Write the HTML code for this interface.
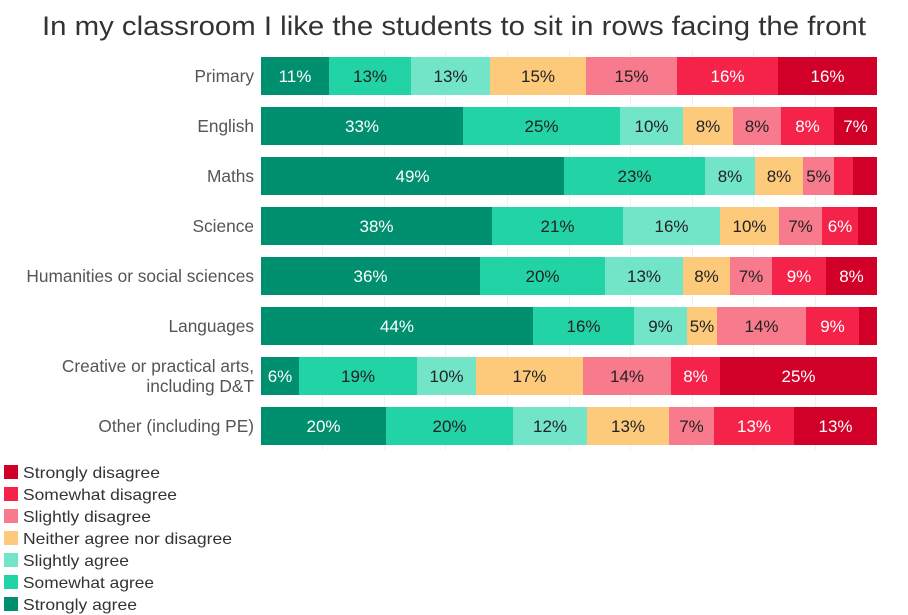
<!DOCTYPE html>
<html><head><meta charset="utf-8"><style>
html,body{margin:0;padding:0;background:#fff;}
svg{display:block;font-family:"Liberation Sans",sans-serif;}
</style></head><body>
<svg width="908" height="615" viewBox="0 0 908 615" xmlns="http://www.w3.org/2000/svg">
<text x="454" y="35" text-anchor="middle" font-size="27" fill="#333" textLength="824" lengthAdjust="spacingAndGlyphs">In my classroom I like the students to sit in rows facing the front</text>
<g stroke="#f0f0f0" stroke-width="1">
<line x1="322.5" y1="50" x2="322.5" y2="450"/><line x1="384.5" y1="50" x2="384.5" y2="450"/><line x1="445.5" y1="50" x2="445.5" y2="450"/><line x1="507.5" y1="50" x2="507.5" y2="450"/><line x1="569.5" y1="50" x2="569.5" y2="450"/><line x1="630.5" y1="50" x2="630.5" y2="450"/><line x1="692.5" y1="50" x2="692.5" y2="450"/><line x1="753.5" y1="50" x2="753.5" y2="450"/><line x1="815.5" y1="50" x2="815.5" y2="450"/>
</g>
<g id="bars"></g>
<g font-size="17.3" fill="#555" text-anchor="end">
<text x="254" y="82">Primary</text>
<text x="254" y="132">English</text>
<text x="254" y="182">Maths</text>
<text x="254" y="232">Science</text>
<text x="254" y="282">Humanities or social sciences</text>
<text x="254" y="332">Languages</text>
<text x="254" y="372">Creative or practical arts,</text>
<text x="254" y="392">including D&amp;T</text>
<text x="254" y="432">Other (including PE)</text>
</g>
<g font-size="16" fill="#333">
<rect x="4" y="465" width="14" height="14" fill="#d10028"/><text x="23" y="478" textLength="137" lengthAdjust="spacingAndGlyphs">Strongly disagree</text>
<rect x="4" y="487" width="14" height="14" fill="#f5234a"/><text x="23" y="500" textLength="154" lengthAdjust="spacingAndGlyphs">Somewhat disagree</text>
<rect x="4" y="509" width="14" height="14" fill="#f77b8c"/><text x="23" y="522" textLength="128" lengthAdjust="spacingAndGlyphs">Slightly disagree</text>
<rect x="4" y="531" width="14" height="14" fill="#fdc97b"/><text x="23" y="544" textLength="209" lengthAdjust="spacingAndGlyphs">Neither agree nor disagree</text>
<rect x="4" y="553" width="14" height="14" fill="#72e5c8"/><text x="23" y="566" textLength="106" lengthAdjust="spacingAndGlyphs">Slightly agree</text>
<rect x="4" y="575" width="14" height="14" fill="#22d3a6"/><text x="23" y="588" textLength="131" lengthAdjust="spacingAndGlyphs">Somewhat agree</text>
<rect x="4" y="597" width="14" height="14" fill="#009070"/><text x="23" y="610" textLength="114" lengthAdjust="spacingAndGlyphs">Strongly agree</text>
</g>
</svg>
<script>
var cols=["#009070","#22d3a6","#72e5c8","#fdc97b","#f77b8c","#f5234a","#d10028"];
var tc=["#fff","#222","#222","#222","#222","#fff","#fff"];
var rows=[
[[261,329,411,490,586,677,778,877],["11%","13%","13%","15%","15%","16%","16%"]],
[[261,463,620,683,733,781,834,877],["33%","25%","10%","8%","8%","8%","7%"]],
[[261,564,705,755,803,834,853,877],["49%","23%","8%","8%","5%","",""]],
[[261,492,623,720,779,822,858,877],["38%","21%","16%","10%","7%","6%",""]],
[[261,480,605,683,730,772,826,877],["36%","20%","13%","8%","7%","9%","8%"]],
[[261,533,634,687,717,806,859,877],["44%","16%","9%","5%","14%","9%",""]],
[[261,299,417,476,583,671,720,877],["6%","19%","10%","17%","14%","8%","25%"]],
[[261,386,513,587,669,714,794,877],["20%","20%","12%","13%","7%","13%","13%"]]];
var g=document.getElementById("bars"),s="";
rows.forEach(function(r,i){var y=57+i*50;var b=r[0];
for(var j=0;j<7;j++){s+='<rect x="'+b[j]+'" y="'+y+'" width="'+(b[j+1]-b[j])+'" height="38" fill="'+cols[j]+'"/>';
if(r[1][j])s+='<text x="'+((b[j]+b[j+1])/2)+'" y="'+(y+25)+'" text-anchor="middle" font-size="17" fill="'+tc[j]+'">'+r[1][j]+'</text>';}});
g.innerHTML=s;
</script>
</body></html>
